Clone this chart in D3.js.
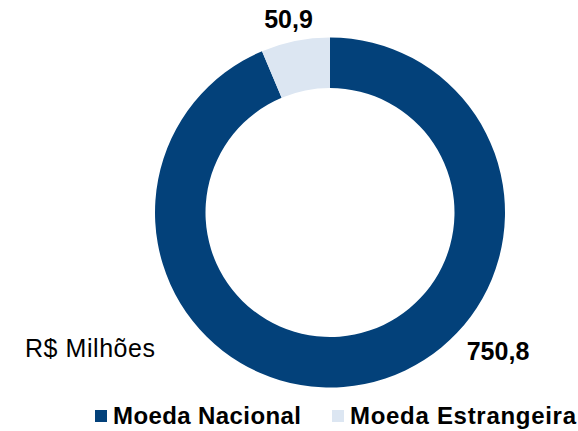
<!DOCTYPE html>
<html>
<head>
<meta charset="utf-8">
<script src="https://cdn.jsdelivr.net/npm/d3@7"></script>
<style>
  body { margin: 0; background: #fff; }
  text { font-family: "Liberation Sans", Arial, sans-serif; fill: #000; }
</style>
</head>
<body>
<svg id="canvas" width="578" height="431"></svg>
<script>
// Data (R$ milhões)
let categories = ["Moeda Nacional", "Moeda Estrangeira"];
let values = [750.8, 50.9];
let labels = ["750,8", "50,9"];
let colors = ["#03417A", "#DCE6F2"];

let canvas = d3.select('#canvas');

let cx = 330, cy = 212.5;
let outerR = 175, innerR = 124.5;

let pie = d3.pie().sort(null).value(d => d);
let arc = d3.arc().innerRadius(innerR).outerRadius(outerR);

let slices = pie(values);

let g = canvas.append("g").attr("transform", `translate(${cx},${cy})`);

g.selectAll("path")
    .data(slices)
    .enter()
    .append("path")
    .attr("d", arc)
    .attr("fill", (d, i) => colors[i]);

// value labels placed outside the ring
let labelPos = [[498, 360], [288.5, 28]];
canvas.selectAll("text.value")
    .data(labels)
    .enter()
    .append("text")
    .attr("class", "value")
    .attr("x", (d, i) => labelPos[i][0])
    .attr("y", (d, i) => labelPos[i][1])
    .attr("text-anchor", "middle")
    .style("font-size", "25px")
    .style("font-weight", "bold")
    .text(d => d);

canvas.append("text")
    .attr("x", 25)
    .attr("y", 357)
    .style("font-size", "25px")
    .attr("textLength", 130)
    .text("R$ Milhões");

// legend
let legendX = [95, 332];
let legendW = [188, 226];
let legend = canvas.selectAll("g.legend")
    .data(categories)
    .enter()
    .append("g")
    .attr("class", "legend")
    .attr("transform", (d, i) => `translate(${legendX[i]},410)`);

legend.append("rect")
    .attr("width", 12)
    .attr("height", 12)
    .attr("fill", (d, i) => colors[i]);

legend.append("text")
    .attr("x", 18)
    .attr("y", 13.5)
    .style("font-size", "24px")
    .style("font-weight", "bold")
    .attr("textLength", (d, i) => legendW[i])
    .attr("lengthAdjust", "spacing")
    .text(d => d);
</script>
</body>
</html>
